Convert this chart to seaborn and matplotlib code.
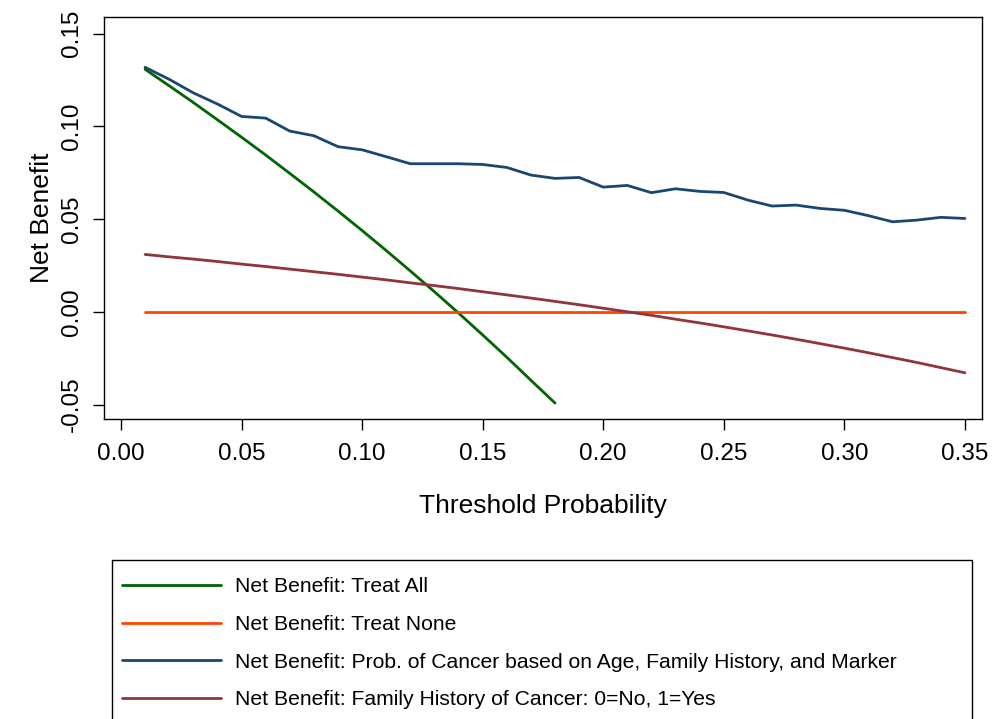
import matplotlib
matplotlib.use("Agg")
import matplotlib.pyplot as plt
from matplotlib.patches import Rectangle
import seaborn as sns
import pandas as pd

# ---- data ----
thresholds = [round(0.01 * i, 2) for i in range(1, 36)]

treat_all_x = thresholds[:18]
treat_all = [0.1307, 0.1218, 0.1128, 0.1035, 0.0941, 0.0845, 0.0746, 0.0646,
             0.0543, 0.0438, 0.0330, 0.0220, 0.0108, -0.0007, -0.0125,
             -0.0245, -0.0369, -0.0492]

treat_none = [0.0] * 35

model_nb = [0.1318, 0.1253, 0.1180, 0.1120, 0.1053, 0.1044, 0.0974, 0.0949,
            0.0890, 0.0873, 0.0836, 0.0798, 0.0798, 0.0798, 0.0794, 0.0778,
            0.0737, 0.0719, 0.0724, 0.0672, 0.0681, 0.0642, 0.0663, 0.0649,
            0.0643, 0.0602, 0.0570, 0.0575, 0.0557, 0.0547, 0.0518, 0.0485,
            0.0494, 0.0509, 0.0503]

famhist_nb = [0.0309, 0.0296, 0.0284, 0.0271, 0.0257, 0.0244, 0.0230, 0.0216,
              0.0202, 0.0187, 0.0172, 0.0156, 0.0141, 0.0125, 0.0108, 0.0091,
              0.0074, 0.0056, 0.0038, 0.0019, 0.0000, -0.0019, -0.0040,
              -0.0060, -0.0081, -0.0103, -0.0125, -0.0148, -0.0172, -0.0196,
              -0.0221, -0.0247, -0.0273, -0.0301, -0.0329]

labels = ["Net Benefit: Treat All",
          "Net Benefit: Treat None",
          "Net Benefit: Prob. of Cancer based on Age, Family History, and Marker",
          "Net Benefit: Family History of Cancer: 0=No, 1=Yes"]
colors = ["#006400", "#FF4500", "#1A476F", "#90353B"]

xticks = [0.00, 0.05, 0.10, 0.15, 0.20, 0.25, 0.30, 0.35]
yticks = [-0.05, 0.00, 0.05, 0.10, 0.15]

# ---- style ----
sns.set_style("white")
plt.rcParams["font.family"] = ["Liberation Sans", "DejaVu Sans"]

W, H = 995, 719
fig = plt.figure(figsize=(W / 100, H / 100), dpi=100)
ax = fig.add_axes([104 / W, 1 - 419 / H, (982 - 104) / W, (419 - 17) / H])

series = [(treat_all_x, treat_all), (thresholds, treat_none),
          (thresholds, model_nb), (thresholds, famhist_nb)]
for (xs, ys), lab, col in zip(series, labels, colors):
    df = pd.DataFrame({"x": xs, "y": ys})
    sns.lineplot(data=df, x="x", y="y", ax=ax, color=col, linewidth=2.0,
                 label=lab, legend=False)

ax.set_xlim(-0.00705, 0.3571)
ax.set_ylim(-0.0578, 0.1589)
ax.set_xticks(xticks)
ax.set_xticklabels([f"{t:.2f}" for t in xticks])
ax.set_yticks(yticks)
ax.set_yticklabels([f"{t:.2f}" for t in yticks])
plt.setp(ax.get_yticklabels(), rotation=90, va="center")

ax.tick_params(axis="both", which="major", direction="out", length=8, width=1,
               labelsize=17.5, color="black", labelcolor="black",
               left=True, bottom=True)
ax.tick_params(axis="x", pad=9)
ax.tick_params(axis="y", pad=7)

for sp in ax.spines.values():
    sp.set_visible(True)
    sp.set_color("black")
    sp.set_linewidth(1.0)

ax.set_xlabel("Threshold Probability", fontsize=19, labelpad=21, color="black")
ax.set_ylabel("Net Benefit", fontsize=19, labelpad=5.5, color="black")

# legend frame (extends past the bottom edge as in the reference)
fig.patches.append(Rectangle((112 / W, 1 - 724 / H), 860 / W, 164 / H,
                             transform=fig.transFigure, fill=False,
                             edgecolor="black", linewidth=1.0))

handles = ax.get_lines()[:4]
leg = fig.legend(handles, labels, loc="upper left",
                 bbox_to_anchor=(122 / W, 1 - 577.5 / H),
                 borderaxespad=0, borderpad=0, frameon=False,
                 fontsize=15.25, handlelength=4.67, handletextpad=0.66,
                 labelspacing=0.88)
for t in leg.get_texts():
    t.set_color("black")

fig.savefig("out.png", dpi=100, facecolor="white")
